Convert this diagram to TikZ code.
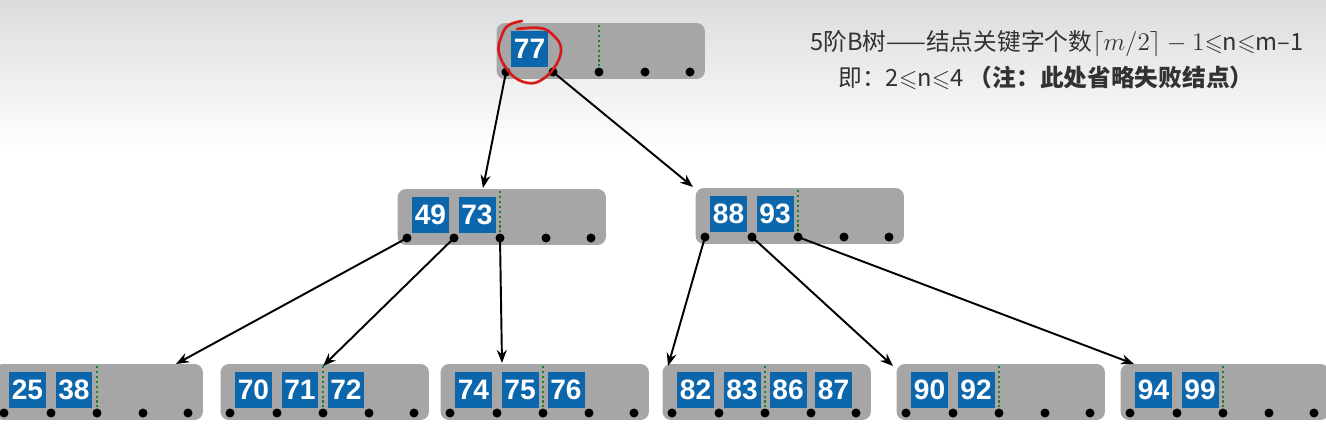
\documentclass[tikz,border=0pt]{standalone}
\usepackage{amssymb}
\usepackage{fontspec}
\setmainfont{Liberation Sans}
\newfontfamily\cjk{Noto Sans CJK SC}
\usetikzlibrary{arrows.meta}
\definecolor{keyblue}{RGB}{12,102,172}
\definecolor{boxgray}{RGB}{166,166,166}
\definecolor{dotgreen}{RGB}{25,130,35}
\definecolor{txtgray}{RGB}{50,50,50}
\definecolor{bgtop}{RGB}{220,220,220}
\definecolor{markred}{RGB}{215,25,25}
\newcommand\bnode[4]{%
  \node[gbox] (#1) at ({#2+94.75},{#3-21}) {};
  \draw[gline] ({#2+93},{#3-47}) -- ({#2+93},#3);
  \foreach \k [count=\i] in {#4} {
    \pgfmathsetmacro\kx{#2+{23.5,70,116,161.5}[\i-1]}
    \node[bkey] (#1-k\i) at (\kx,{#3-23}) {\k};
  }
  \foreach \off [count=\i] in {0,47,93,139,184}
    \node[bdot] (#1-d\i) at ({#2+\off},#3) {};
}
\begin{document}
\begin{tikzpicture}[x=0.02cm,y=-0.02cm,
  gbox/.style={fill=boxgray, draw=none, rounded corners=0.17cm, minimum width=4.17cm, minimum height=1.12cm, inner sep=0pt},
  bkey/.style={fill=keyblue, text=white, font=\bfseries\fontsize{16}{16}\selectfont, minimum width=0.74cm, minimum height=0.72cm, inner sep=0pt},
  bdot/.style={circle, fill=black, minimum size=0.18cm, inner sep=0pt},
  gline/.style={dotgreen, line width=1.5pt, dash pattern=on 1.2pt off 1.6pt},
  arr/.style={-{Stealth[length=0.26cm,width=0.2cm]}, line width=1.1pt, black},
  txt/.style={text=txtgray, font=\cjk\fontsize{13.5}{16}\selectfont, inner sep=0pt},
  redmark/.style={markred, line width=1.5pt, line cap=round}
]
\clip (0,0) rectangle (1326,423);
\shade[top color=bgtop, bottom color=white] (0,0) rectangle (1326,150);
\fill[white] (0,150) rectangle (1326,423);

\bnode{root}{506}{72}{77}
\bnode{ml}{407}{238}{49,73}
\bnode{mr}{705}{237}{88,93}
\bnode{b1}{4}{413}{25,38}
\bnode{b2}{230}{413}{70,71,72}
\bnode{b3}{450}{413}{74,75,76}
\bnode{b4}{672}{413}{82,83,86,87}
\bnode{b5}{906}{413}{90,92}
\bnode{b6}{1130}{413}{94,99}

\coordinate (t1) at (483,188);
\coordinate (t2) at (693,187);
\coordinate (t3) at (176,364);
\coordinate (t4) at (323,366);
\coordinate (t5) at (502,363);
\coordinate (t6) at (668,366);
\coordinate (t7) at (893,366);
\coordinate (t8) at (1134,364);

\draw[arr] (root-d1.center) -- (t1);
\draw[arr] (root-d2.center) -- (t2);
\draw[arr] (ml-d1.center) -- (t3);
\draw[arr] (ml-d2.center) -- (t4);
\draw[arr] (ml-d3.center) -- (t5);
\draw[arr] (mr-d1.center) -- (t6);
\draw[arr] (mr-d2.center) -- (t7);
\draw[arr] (mr-d3.center) -- (t8);

\draw[redmark] plot[smooth, tension=0.7] coordinates {(517,29) (540,28) (553,35) (561,48) (556,65) (543,79) (528,83) (511,74) (499,53) (502,35) (509,25) (522,21)};

\node[txt] (line1) at (1057,44) {5阶B树——结点关键字个数$\lceil m/2\rceil - 1$$\leqslant$n$\leqslant$m–1};
\node[txt] (line2) at (1046,78) {即：2$\leqslant$n$\leqslant$4 \textbf{（注：此处省略失败结点）}};
\end{tikzpicture}
\end{document}
